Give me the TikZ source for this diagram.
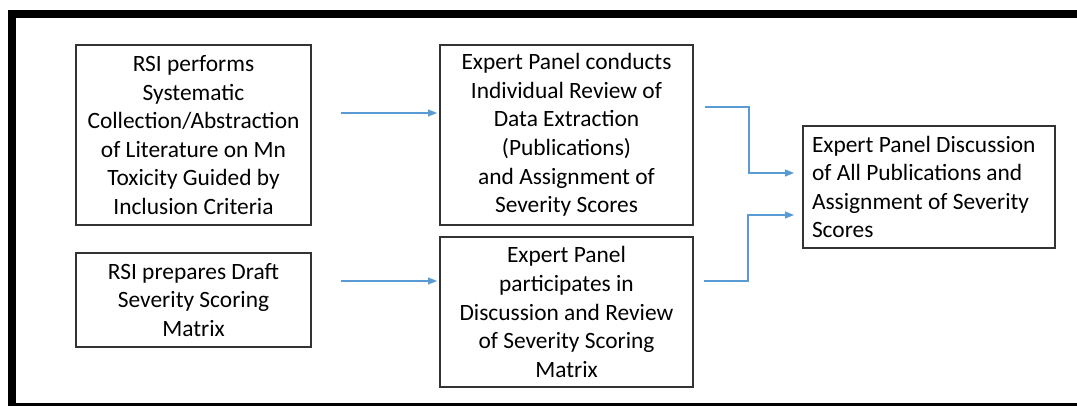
\documentclass[tikz,border=0pt]{standalone}
\usepackage{fontspec}
\setmainfont{Carlito}
\usetikzlibrary{arrows.meta}
\begin{document}
\begin{tikzpicture}[x=1pt,y=-1pt,
  box/.style={draw=black!80, line width=1.2pt, inner sep=0pt, align=center,
    font=\fontsize{23.4}{28.6}\selectfont, anchor=center},
  flow/.style={draw={rgb,255:red,91;green,155;blue,213}, line width=1.2pt,
    -{Triangle[length=9pt,width=7pt]}},
  frame/.style={fill=black, draw=none}]
\useasboundingbox (0,0) rectangle (1077,406);
\fill[white] (0,0) rectangle (1077,406);
% frame
\path[frame] (8,10) rectangle (1077,18);
\path[frame] (8,10) rectangle (16,406);
\path[frame] (8,403) rectangle (1077,406);
% boxes
\node[box, minimum width=235pt, minimum height=180pt] (b1) at (193.5,135)
  {RSI performs\\Systematic\\Collection/Abstraction\\of Literature on Mn\\Toxicity Guided by\\Inclusion Criteria};
\node[box, minimum width=235pt, minimum height=94pt] (b2) at (193.5,300)
  {RSI prepares Draft\\Severity Scoring\\Matrix};
\node[box, minimum width=253pt, minimum height=180pt] (b3) at (566.5,135)
  {Expert Panel conducts\\Individual Review of\\Data Extraction\\(Publications)\\and Assignment of\\Severity Scores};
\node[box, minimum width=253pt, minimum height=150pt] (b4) at (566.5,312)
  {Expert Panel\\participates in\\Discussion and Review\\of Severity Scoring\\Matrix};
\node[box, align=flush left, text width=234pt, inner xsep=9pt, minimum height=122pt] (b5) at (929,187)
  {Expert Panel Discussion\\of All Publications and\\Assignment of Severity\\Scores};
% connector end points
\coordinate (a1s) at (341,113);
\coordinate (a1e) at (437,113);
\coordinate (a2s) at (341,281);
\coordinate (a2e) at (437,281);
\coordinate (e1s) at (705,107);
\coordinate (e1e) at (794,173);
\coordinate (e2s) at (704,281);
\coordinate (e2e) at (794,215);
% connectors
\draw[flow] (a1s) -- (a1e);
\draw[flow] (a2s) -- (a2e);
\draw[flow] (e1s) -- (749,107) -- (749,173) -- (e1e);
\draw[flow] (e2s) -- (748,281) -- (748,215) -- (e2e);
\end{tikzpicture}
\end{document}
